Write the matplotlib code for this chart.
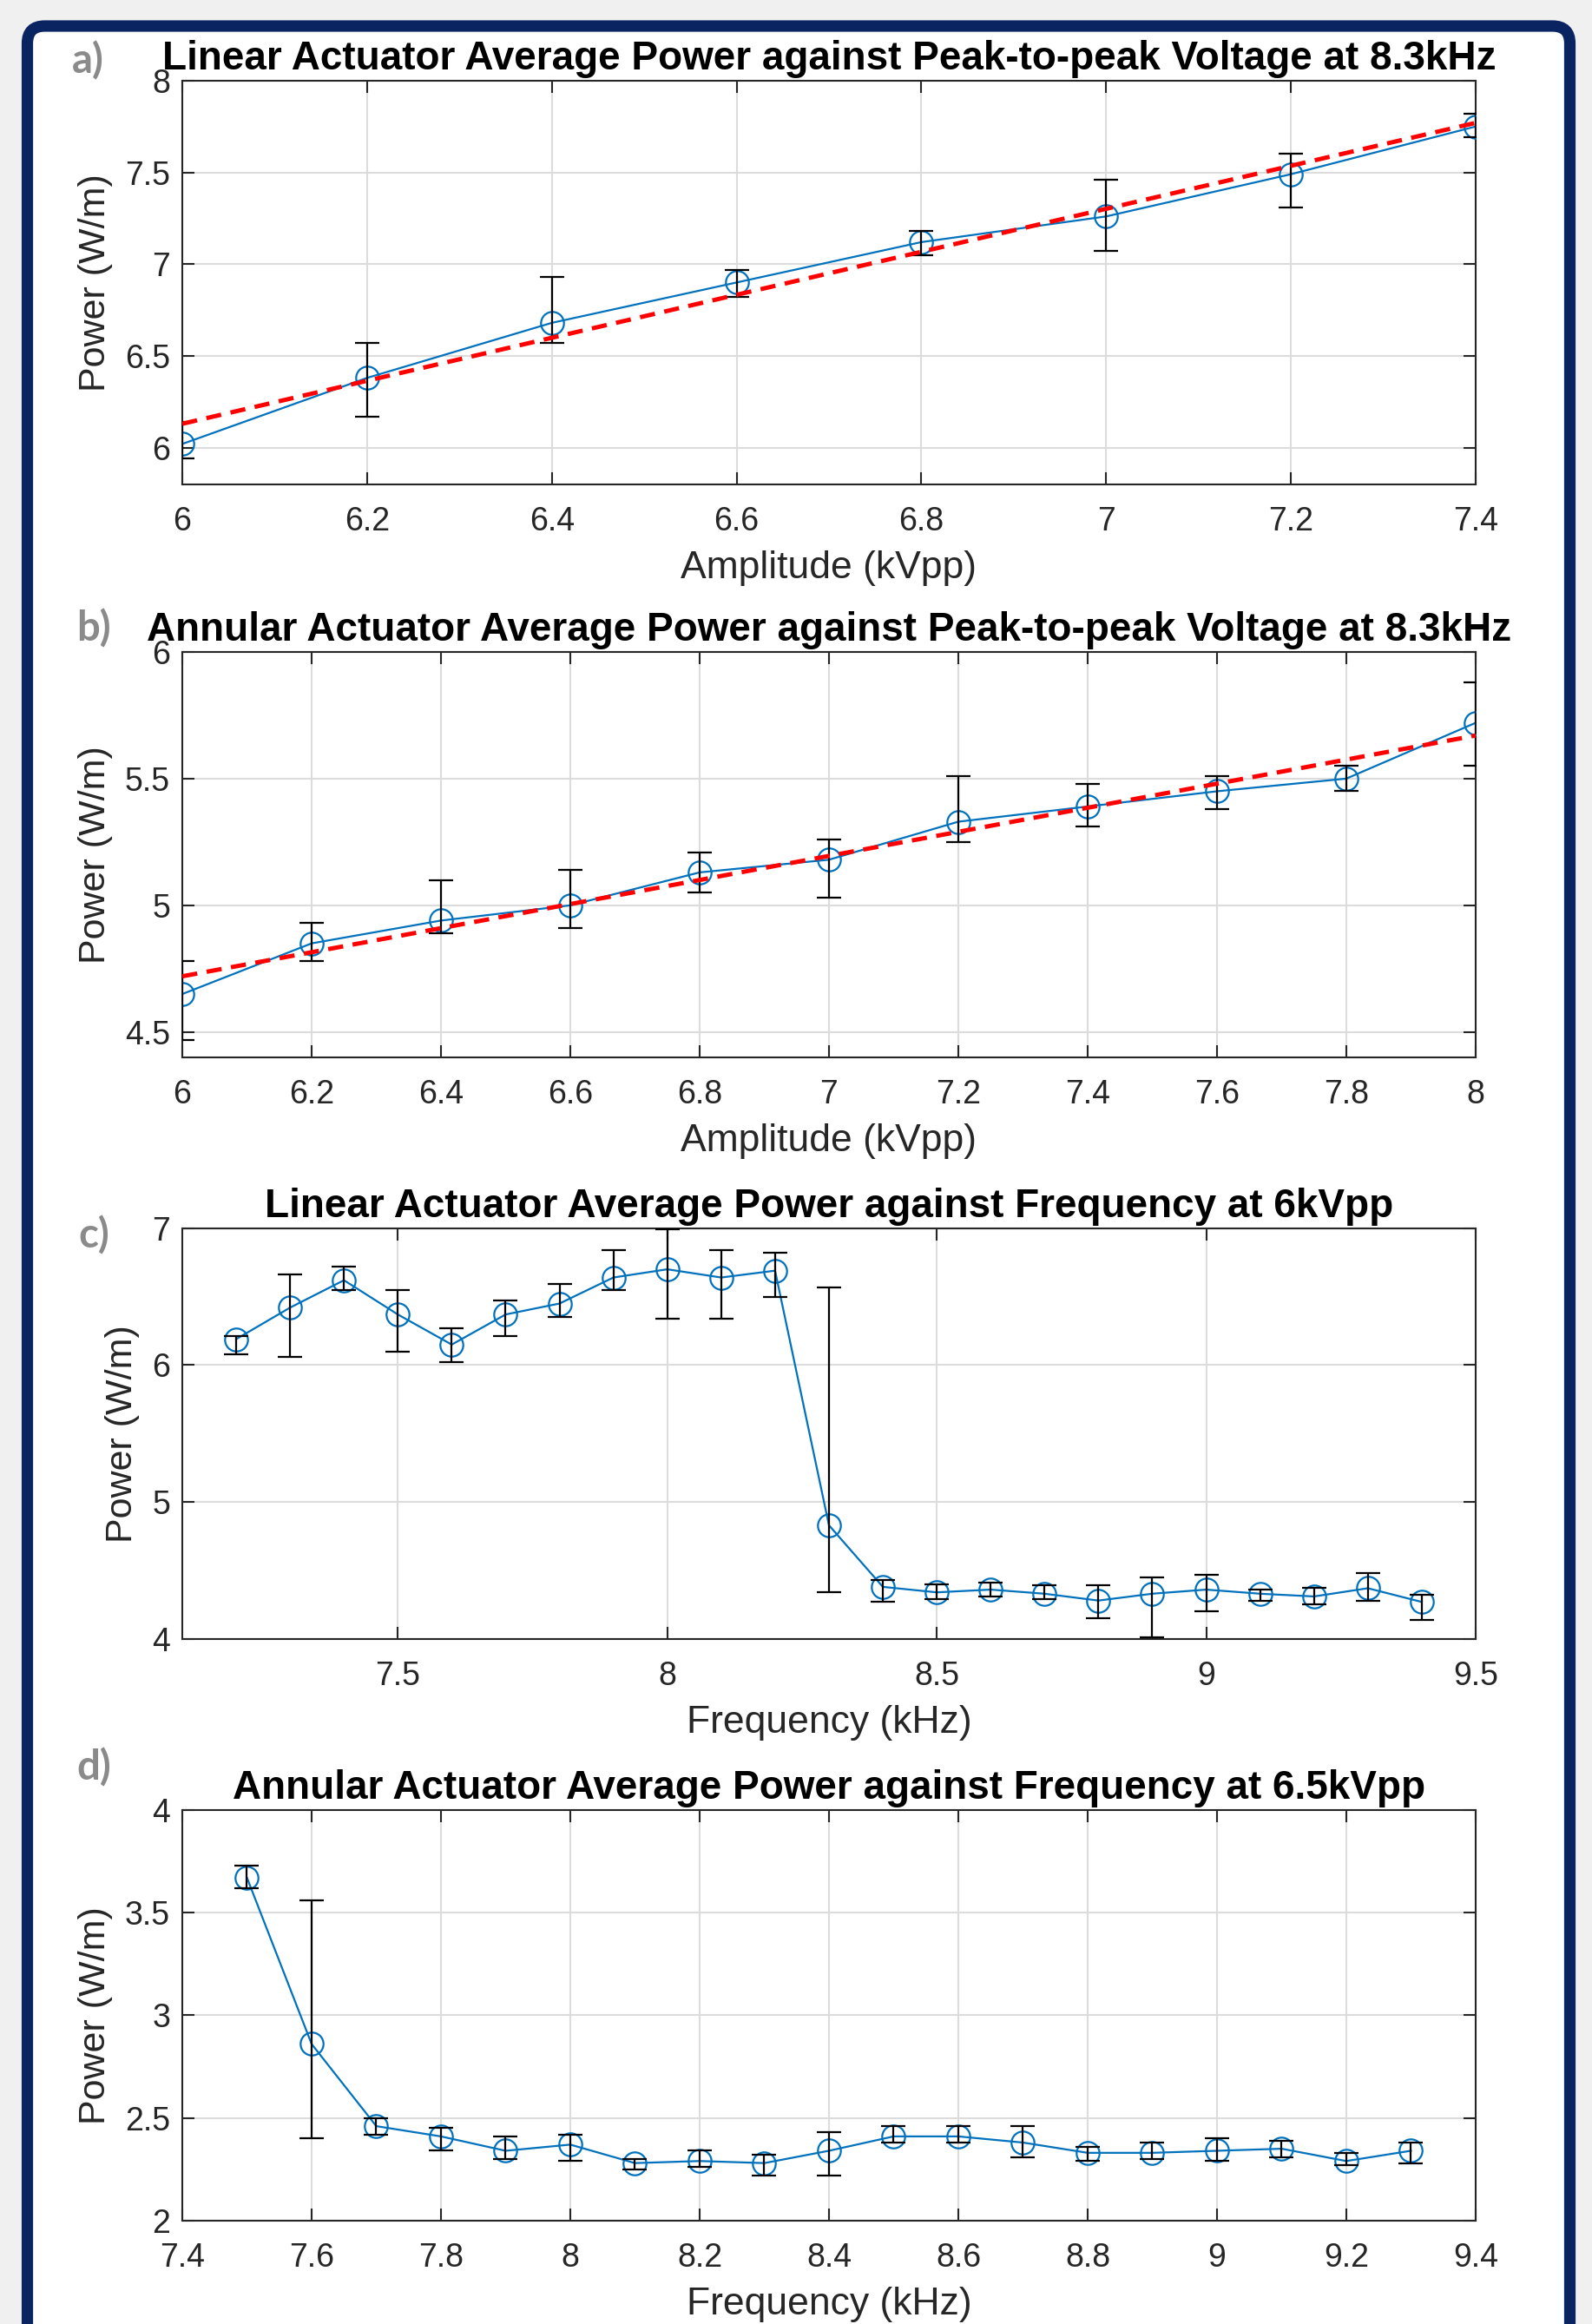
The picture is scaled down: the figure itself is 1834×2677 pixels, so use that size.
import matplotlib
matplotlib.use("Agg")
import matplotlib.pyplot as plt
from matplotlib.patches import FancyBboxPatch
from matplotlib.ticker import FormatStrFormatter, MultipleLocator

plt.rcParams["font.family"] = ["Liberation Sans", "DejaVu Sans"]

# ---- data ----
# a) linear actuator, power vs amplitude at 8.3 kHz
amp_a = [6.0, 6.2, 6.4, 6.6, 6.8, 7.0, 7.2, 7.4]
pow_a = [6.02, 6.38, 6.68, 6.90, 7.12, 7.26, 7.49, 7.75]
lo_a = [5.94, 6.17, 6.57, 6.82, 7.05, 7.07, 7.31, 7.69]
hi_a = [6.14, 6.57, 6.93, 6.97, 7.18, 7.46, 7.60, 7.82]
fit_a_x = [6.0, 7.4]
fit_a_y = [6.13, 7.77]

# b) annular actuator, power vs amplitude at 8.3 kHz
amp_b = [6.0, 6.2, 6.4, 6.6, 6.8, 7.0, 7.2, 7.4, 7.6, 7.8, 8.0]
pow_b = [4.65, 4.85, 4.94, 5.00, 5.13, 5.18, 5.33, 5.39, 5.45, 5.50, 5.72]
lo_b = [4.47, 4.78, 4.89, 4.91, 5.05, 5.03, 5.25, 5.31, 5.38, 5.45, 5.55]
hi_b = [4.78, 4.93, 5.10, 5.14, 5.21, 5.26, 5.51, 5.48, 5.51, 5.55, 5.88]
fit_b_x = [6.0, 8.0]
fit_b_y = [4.72, 5.67]

# c) linear actuator, power vs frequency at 6 kVpp
freq_c = [7.2, 7.3, 7.4, 7.5, 7.6, 7.7, 7.8, 7.9, 8.0, 8.1, 8.2, 8.3,
          8.4, 8.5, 8.6, 8.7, 8.8, 8.9, 9.0, 9.1, 9.2, 9.3, 9.4]
pow_c = [6.19, 6.42, 6.62, 6.37, 6.15, 6.37, 6.45, 6.64, 6.70, 6.64, 6.69, 4.83,
         4.38, 4.34, 4.36, 4.33, 4.28, 4.33, 4.36, 4.33, 4.31, 4.37, 4.27]
lo_c = [6.08, 6.06, 6.55, 6.10, 6.02, 6.21, 6.35, 6.55, 6.34, 6.34, 6.50, 4.34,
        4.27, 4.29, 4.31, 4.29, 4.15, 4.01, 4.20, 4.28, 4.25, 4.28, 4.14]
hi_c = [6.21, 6.66, 6.72, 6.55, 6.27, 6.47, 6.59, 6.84, 6.99, 6.84, 6.82, 6.57,
        4.43, 4.40, 4.41, 4.39, 4.39, 4.45, 4.47, 4.36, 4.37, 4.48, 4.32]

# d) annular actuator, power vs frequency at 6.5 kVpp
freq_d = [7.5, 7.6, 7.7, 7.8, 7.9, 8.0, 8.1, 8.2, 8.3, 8.4,
          8.5, 8.6, 8.7, 8.8, 8.9, 9.0, 9.1, 9.2, 9.3]
pow_d = [3.67, 2.86, 2.46, 2.41, 2.34, 2.37, 2.28, 2.29, 2.28, 2.34,
         2.41, 2.41, 2.38, 2.33, 2.33, 2.34, 2.35, 2.29, 2.34]
lo_d = [3.62, 2.40, 2.42, 2.34, 2.30, 2.29, 2.25, 2.26, 2.22, 2.22,
        2.38, 2.38, 2.31, 2.29, 2.30, 2.29, 2.31, 2.27, 2.28]
hi_d = [3.73, 3.56, 2.50, 2.45, 2.41, 2.42, 2.30, 2.34, 2.32, 2.43,
        2.46, 2.46, 2.46, 2.36, 2.38, 2.40, 2.39, 2.33, 2.38]

titles = [
    "Linear Actuator Average Power against Peak-to-peak Voltage at 8.3kHz",
    "Annular Actuator Average Power against Peak-to-peak Voltage at 8.3kHz",
    "Linear Actuator Average Power against Frequency at 6kVpp",
    "Annular Actuator Average Power against Frequency at 6.5kVpp",
]
xlabels = ["Amplitude (kVpp)", "Amplitude (kVpp)", "Frequency (kHz)", "Frequency (kHz)"]
panel_tags = ["a)", "b)", "c)", "d)"]

BLUE = "#0072BD"
INK = "#262626"
NAVY = "#0a2462"

fig = plt.figure(figsize=(18.34, 26.77), dpi=100, facecolor="#f0f0f0")

# white card with navy rounded frame (bottom edge runs off the page)
card = FancyBboxPatch((0.315, -1.0), 17.77, 27.62 - 0.15,
                      boxstyle="round,pad=0,rounding_size=0.2",
                      facecolor="white", edgecolor=NAVY, linewidth=9.5,
                      transform=fig.dpi_scale_trans, zorder=-10)
fig.patches.append(card)

# axes boxes [left, bottom, width, height] in figure fractions
boxes = [
    [0.1145, 0.7916, 0.8124, 0.1737],
    [0.1145, 0.5450, 0.8124, 0.1745],
    [0.1145, 0.2948, 0.8124, 0.1767],
    [0.1145, 0.0445, 0.8124, 0.1767],
]
tag_pos = [(101, 70), (108, 724), (108, 1423), (108, 2036)]

series = [
    (amp_a, pow_a, lo_a, hi_a, (fit_a_x, fit_a_y)),
    (amp_b, pow_b, lo_b, hi_b, (fit_b_x, fit_b_y)),
    (freq_c, pow_c, lo_c, hi_c, None),
    (freq_d, pow_d, lo_d, hi_d, None),
]
limits = [
    ((6.0, 7.4), (5.8, 8.0), 0.2, 0.5),
    ((6.0, 8.0), (4.4, 6.0), 0.2, 0.5),
    ((7.1, 9.5), (4.0, 7.0), 0.5, 1.0),
    ((7.4, 9.4), (2.0, 4.0), 0.2, 0.5),
]

for i, (x, y, lo, hi, fit) in enumerate(series):
    ax = fig.add_axes(boxes[i])
    yerr = [[m - l for m, l in zip(y, lo)], [h - m for m, h in zip(y, hi)]]
    ax.plot(x, y, "-o", color=BLUE, lw=1.6, ms=19, mfc="none", mew=1.6, zorder=3)
    ax.errorbar(x, y, yerr=yerr, fmt="none", ecolor="black", elinewidth=1.6,
                capsize=10, capthick=1.6, zorder=4)
    if fit is not None:
        ax.plot(fit[0], fit[1], "--", color="red", lw=3.6, dashes=(3.5, 2.2), zorder=5)

    (x0, x1), (y0, y1), xs, ys = limits[i]
    ax.set_xlim(x0, x1)
    ax.set_ylim(y0, y1)
    ax.xaxis.set_major_locator(MultipleLocator(xs))
    ax.yaxis.set_major_locator(MultipleLocator(ys))
    ax.xaxis.set_major_formatter(FormatStrFormatter("%g"))
    ax.yaxis.set_major_formatter(FormatStrFormatter("%g"))
    ax.grid(True, color="#dcdcdc", lw=1.5)
    ax.set_axisbelow(True)
    ax.tick_params(direction="in", length=10, width=1.5, colors=INK,
                   labelsize=27, top=True, right=True)
    ax.tick_params(axis="x", pad=18)
    ax.tick_params(axis="y", pad=10)
    for s in ax.spines.values():
        s.set_color(INK)
        s.set_linewidth(1.5)
    ax.set_title(titles[i], fontsize=33, fontweight="bold", pad=9)
    ax.set_xlabel(xlabels[i], fontsize=32, color=INK, labelpad=11)
    ax.set_ylabel("Power (W/m)", fontsize=31, color=INK, labelpad=10)

    tx, ty = tag_pos[i]
    fig.text(tx / 1834, 1 - ty / 2677, panel_tags[i], fontsize=34,
             fontweight="bold", color="#8a8a8a", family=["Lato", "DejaVu Sans"],
             ha="center", va="center")

fig.savefig("out.png", dpi=100, facecolor=fig.get_facecolor())
